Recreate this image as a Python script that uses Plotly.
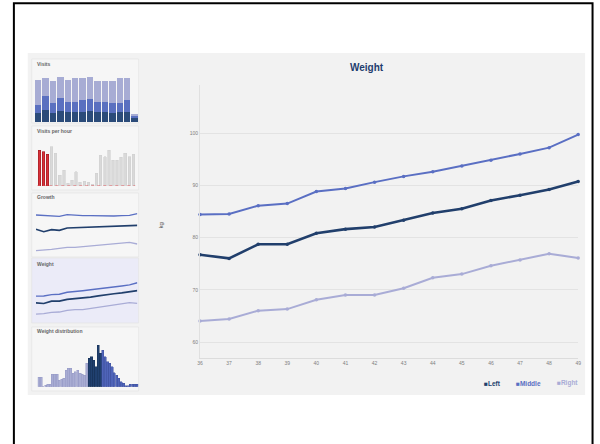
import plotly.graph_objects as go

# ---------------- data ----------------
weeks = list(range(36, 50))
weight_left = [76.7, 76.0, 78.7, 78.7, 80.8, 81.6, 82.0, 83.3, 84.7, 85.5, 87.1, 88.1, 89.2, 90.7]
weight_middle = [84.4, 84.5, 86.1, 86.5, 88.8, 89.4, 90.6, 91.7, 92.6, 93.7, 94.8, 96.0, 97.2, 99.7]
weight_right = [64.0, 64.4, 66.0, 66.3, 68.1, 69.0, 69.0, 70.3, 72.3, 73.0, 74.6, 75.7, 76.9, 76.1]

visit_days = list(range(14))
visits_left = [29, 37, 29, 34, 32, 32, 32, 35, 30, 32, 29, 30, 30, 12]
visits_middle = [23, 42, 28, 40, 30, 30, 35, 35, 32, 30, 30, 29, 37, 10]
visits_right = [75, 53, 67, 61, 65, 72, 67, 65, 63, 63, 65, 73, 67, 3]

hours = list(range(24))
visits_per_hour = [108, 103, 96, 118, 98, 33, 48, 8, 18, 43, 11, 15, 11, 5, 38,
                   93, 88, 108, 78, 78, 86, 98, 88, 95]
peak_hours = [0, 1, 2]

growth_left = [82, 75, 81, 79, 86, 87, 86, 87, 88, 89, 90, 91, 92, 94]
growth_middle = [125, 123, 122, 121, 126, 124, 123, 123, 122, 122, 122, 123, 124, 129]
growth_right = [18, 19, 22, 25, 28, 28, 30, 33, 35, 37, 40, 42, 43, 38]

dist_bins = list(range(56, 100))
dist_counts = [28, 28, 0, 5, 8, 8, 38, 38, 38, 20, 22, 25, 50, 55, 55, 40, 45, 50, 40, 38, 35, 70,
               85, 90, 80, 60, 125, 100,
               110, 90, 75, 70, 60, 42, 35, 25, 15, 10, 3, 3, 8, 8, 8, 8]
dist_split = [22, 28]  # right | left | middle

C_LEFT, C_MID, C_RIGHT = "#213f6c", "#5a6fc3", "#a9acd6"

# ---------------- helpers ----------------
W, H = 600, 444
def fx(p):
    return p / W
def fy(p):
    return 1 - p / H
def xd(a, b):
    return [fx(a), fx(b)]
def yd(top, bottom):
    return [fy(bottom), fy(top)]

fig = go.Figure()

# ---------------- main chart ----------------
for name, vals, col, w in [("Right", weight_right, C_RIGHT, 2.0),
                           ("Middle", weight_middle, C_MID, 2.0),
                           ("Left", weight_left, C_LEFT, 2.6)]:
    fig.add_trace(go.Scatter(x=weeks, y=vals, mode="lines+markers", name=name,
                             line=dict(color=col, width=w),
                             marker=dict(color=col, size=3.5),
                             cliponaxis=False, showlegend=False,
                             xaxis="x", yaxis="y"))

# ---------------- sidebar: visits ----------------
for vals, col in [(visits_left, "#2b4b79"), (visits_middle, "#5a70c0"), (visits_right, "#a7acd4")]:
    fig.add_trace(go.Bar(x=visit_days, y=vals, marker=dict(color=col, line=dict(width=0)),
                         width=0.86, showlegend=False, xaxis="x2", yaxis="y2"))

# ---------------- sidebar: visits per hour ----------------
vph_colors = ["#d8323a" if h in peak_hours else "#d9d9d9" for h in hours]
vph_lines = ["#9e1c22" if h in peak_hours else "#d0d0d0" for h in hours]
fig.add_trace(go.Bar(x=hours, y=visits_per_hour,
                     marker=dict(color=vph_colors, line=dict(color=vph_lines, width=0.6)),
                     width=0.62, showlegend=False, xaxis="x3", yaxis="y3"))
fig.add_trace(go.Scatter(x=[hours[0] - 0.5, hours[-1] + 0.5], y=[0, 0], mode="lines",
                         line=dict(color="#e0585e", width=1, dash="dot"),
                         showlegend=False, xaxis="x3", yaxis="y3", cliponaxis=False))

# ---------------- sidebar: growth ----------------
for vals, col, w in [(growth_right, C_RIGHT, 1.3), (growth_middle, C_MID, 1.3), (growth_left, C_LEFT, 1.6)]:
    fig.add_trace(go.Scatter(x=weeks, y=vals, mode="lines", line=dict(color=col, width=w),
                             showlegend=False, xaxis="x4", yaxis="y4"))

# ---------------- sidebar: weight (mini) ----------------
for vals, col, w in [(weight_right, C_RIGHT, 1.3), (weight_middle, C_MID, 1.4), (weight_left, C_LEFT, 1.7)]:
    fig.add_trace(go.Scatter(x=weeks, y=vals, mode="lines", line=dict(color=col, width=w),
                             showlegend=False, xaxis="x5", yaxis="y5"))

# ---------------- sidebar: weight distribution ----------------
a, b = dist_split
for xs, ys, col, lc in [(dist_bins[:a], dist_counts[:a], "#a8acd3", "#9599c6"),
                        (dist_bins[a:b], dist_counts[a:b], "#20406f", "#162f55"),
                        (dist_bins[b:], dist_counts[b:], "#4f64b9", "#3f52a0")]:
    fig.add_trace(go.Bar(x=xs, y=ys, marker=dict(color=col, line=dict(color=lc, width=0.5)),
                         width=0.95, showlegend=False, xaxis="x6", yaxis="y6"))

# ---------------- axes ----------------
hidden = dict(visible=False, fixedrange=True)
fig.update_layout(
    width=W, height=H, autosize=False,
    margin=dict(l=0, r=0, t=0, b=0, pad=0),
    paper_bgcolor="white", plot_bgcolor="rgba(0,0,0,0)",
    barmode="stack", showlegend=False,
    font=dict(family="Liberation Sans, Arial, sans-serif", size=5, color="#777"),
    xaxis=dict(domain=xd(199, 581), range=[36, 49], tickmode="array", tickvals=weeks,
               ticktext=[str(w) for w in weeks], showgrid=False, zeroline=False,
               showline=True, linecolor="#dcdcdc", linewidth=1, ticks="",
               tickfont=dict(size=5, color="#808080"), anchor="y"),
    yaxis=dict(domain=yd(85, 358), range=[56.94, 109.19], tickmode="array",
               tickvals=[60, 70, 80, 90, 100], showgrid=True, gridcolor="#e3e3e3",
               gridwidth=0.8, zeroline=False, showline=True, linecolor="#e0e0e0",
               linewidth=1, ticks="", tickfont=dict(size=5, color="#808080"), anchor="x"),
    xaxis2=dict(domain=xd(31.7, 136.7), range=[-0.5, 13.5], anchor="y2", **hidden),
    yaxis2=dict(domain=yd(75.6, 122.3), range=[0, 140], anchor="x2", **hidden),
    xaxis3=dict(domain=xd(34.6, 133.8), range=[-0.5, 23.5], anchor="y3", **hidden),
    yaxis3=dict(domain=yd(136, 186), range=[0, 150], anchor="x3", **hidden),
    xaxis4=dict(domain=xd(33.3, 135.7), range=[36, 49], anchor="y4", **hidden),
    yaxis4=dict(domain=yd(205, 255), range=[5, 155], anchor="x4", **hidden),
    xaxis5=dict(domain=xd(33.3, 135.7), range=[36, 49], anchor="y5", **hidden),
    yaxis5=dict(domain=yd(270, 320), range=[57.2, 114.2], anchor="x5", **hidden),
    xaxis6=dict(domain=xd(35, 136.7), range=[55.5, 99.5], anchor="y6", **hidden),
    yaxis6=dict(domain=yd(336, 386.7), range=[0, 152], anchor="x6", **hidden),
)

# ---------------- background shapes ----------------
shapes = [
    dict(type="rect", xref="paper", yref="paper", x0=fx(25), x1=fx(588), y0=fy(395), y1=fy(53),
         fillcolor="#f2f2f2", line=dict(width=0), layer="below"),
]
panels = [(59, 123, "#f6f6f6"), (126, 190, "#f6f6f6"), (193, 257, "#f6f6f6"),
          (258, 323, "#ebebf8"), (327, 391, "#f6f6f6")]
for top, bot, fill in panels:
    shapes.append(dict(type="rect", xref="paper", yref="paper", x0=fx(29), x1=fx(137),
                       y0=fy(bot), y1=fy(top), fillcolor=fill,
                       line=dict(color="#e4e4e4", width=0.7), layer="below"))
shapes.append(dict(type="rect", xref="paper", yref="paper", x0=fx(11), x1=fx(595.5),
                   y0=fy(470), y1=fy(3.3), fillcolor="rgba(0,0,0,0)",
                   line=dict(color="black", width=2)))
fig.update_layout(shapes=shapes)

# ---------------- text ----------------
ann = [
    dict(text="<b>Weight</b>", x=fx(368), y=fy(67), font=dict(size=10, color="#1f3d6e",
         family="Liberation Sans, Arial, sans-serif"), xanchor="center", yanchor="middle"),
    dict(text="kg", x=fx(160), y=fy(225), textangle=-90, font=dict(size=6, color="#555"),
         xanchor="center", yanchor="middle"),
]
for t, ypx in [("Visits", 64), ("Visits per hour", 131), ("Growth", 197),
               ("Weight", 264), ("Weight distribution", 331)]:
    ann.append(dict(text="<b>" + t + "</b>", x=fx(32.5), y=fy(ypx), xanchor="left",
                    yanchor="middle", font=dict(size=5, color="#666")))
for name, col, xpx in [("Left", C_LEFT, 484), ("Middle", C_MID, 516), ("Right", C_RIGHT, 558)]:
    ann.append(dict(text="<b>■" + name + "</b>", x=fx(xpx), y=fy(383), xanchor="left",
                    yanchor="middle", font=dict(size=6.5, color=col)))
for a_ in ann:
    a_.update(xref="paper", yref="paper", showarrow=False)
fig.update_layout(annotations=ann)

fig.write_html("out.html", config={"displayModeBar": False},
               post_script="document.body.style.margin='0';")
